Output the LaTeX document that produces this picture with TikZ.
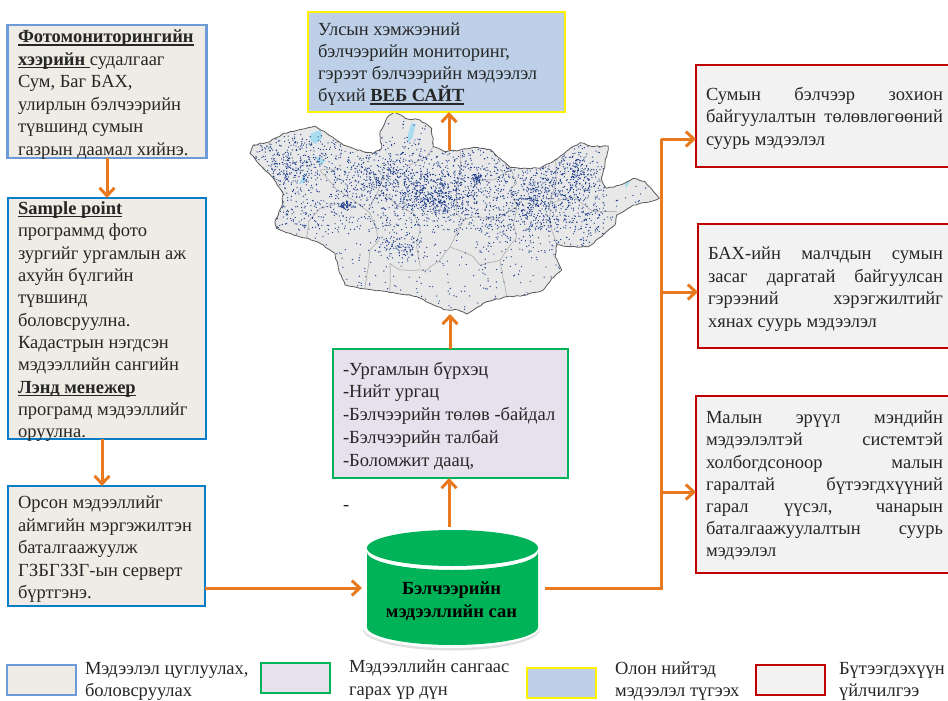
\documentclass[tikz,border=0pt]{standalone}
\usepackage{fontspec}
\setmainfont{Liberation Serif}
\usetikzlibrary{arrows.meta,calc,decorations.pathmorphing}
\definecolor{arr}{HTML}{E8791F}
\definecolor{bluea}{HTML}{6C9BD8}
\definecolor{blueb}{HTML}{0A7DC8}
\definecolor{fillgrey}{HTML}{EEECE4}
\definecolor{fillpurp}{HTML}{E6E1EC}
\definecolor{fillblue}{HTML}{BDD0E7}
\definecolor{fillred}{HTML}{F2F2F2}
\definecolor{grn}{HTML}{00B258}
\definecolor{redb}{HTML}{C00000}
\definecolor{mapfill}{HTML}{E8E8E8}
\definecolor{dotc}{HTML}{1A3A8A}
\definecolor{lake}{HTML}{A8DDF0}
\newsavebox\ubx
\newcommand\tbx[5]{\parbox[c][#2pt][t]{#1pt}{\leftskip=#4pt\parindent=0pt\vspace*{#3pt}#5}}
\newcommand\rag{\rightskip=0pt plus 1fil\relax}
\newcommand\ul[1]{\leavevmode\sbox\ubx{\textbf{#1}}\rlap{\rule[-3pt]{\wd\ubx}{1.5pt}}\usebox\ubx}
\newcommand\mapdots[5]{\foreach \i in {1,...,#5}{\fill[dotc] ({#1+#3*(rand+rand)*.72},{#2+#4*(rand+rand)*.72}) circle (2);}}
\newcommand\mapuni[5]{\foreach \i in {1,...,#5}{\fill[dotc] ({#1+#3*rand},{#2+#4*rand}) circle (2);}}
\tikzset{
  base/.style={rectangle,inner sep=0pt,outer sep=0pt,font=\fontsize{18.5}{22.5}\selectfont,text=black!85},
  bluebox/.style={base,draw=blueb,fill=fillgrey,line width=2.8pt},
  lightbox/.style={base,draw=bluea,fill=fillgrey,line width=2.8pt},
  greenbox/.style={base,draw=grn,fill=fillpurp,line width=2.8pt},
  yellowbox/.style={base,draw=yellow,fill=fillblue,line width=2.8pt},
  redbox/.style={base,draw=redb,fill=fillred,line width=2.8pt},
  plain/.style={base,anchor=base west,align=left},
  flow/.style={draw=arr,line width=3pt,-{Straight Barb[length=8pt,width=15pt,line width=3pt]}},
  flowline/.style={draw=arr,line width=3pt},
}
\begin{document}
\begin{tikzpicture}[x=1pt,y=-1pt]
\useasboundingbox (0,0) rectangle (948,701);

% map
\begin{scope}[shift={(240,90)},x=.33333pt,y=-.33333pt]
\def\outl{(462,65)--(495,85)--(540,90)--(575,115)--(580,170)--(620,185)--(660,180)--(700,172)--(750,178)--(785,210)--(810,232)--(860,235)--(900,235)--(945,210)--(985,180)--(1020,158)--(1060,170)--(1105,168)--(1095,220)--(1085,270)--(1100,295)--(1140,285)--(1180,265)--(1215,275)--(1258,325)--(1230,335)--(1180,345)--(1150,365)--(1130,375)--(1125,405)--(1085,440)--(1045,470)--(990,470)--(950,465)--(945,500)--(965,540)--(935,565)--(910,600)--(860,615)--(800,620)--(740,635)--(680,672)--(655,660)--(620,660)--(570,640)--(530,620)--(480,612)--(400,600)--(340,590)--(315,585)--(295,535)--(285,490)--(240,460)--(205,445)--(160,435)--(110,415)--(105,395)--(125,350)--(130,310)--(100,265)--(60,225)--(30,190)--(40,165)--(90,155)--(130,130)--(175,120)--(225,108)--(260,130)--(310,165)--(350,180)--(400,190)--(425,175)--(420,125)--(440,85)--cycle}
\fill[mapfill] \outl;
\fill[lake] (212,130)--(242,120)--(247,145)--(225,162)--(211,150)--cycle;
\fill[lake] (515,98)--(527,103)--(517,145)--(502,160)--(505,130)--cycle;
\fill[lake] (225,198)--(257,212)--(240,227)--cycle;
\fill[lake] (197,248)--(176,282)--(194,277)--cycle;
\fill[lake] (1160,272)--(1170,275)--(1160,292)--(1154,290)--cycle;
\draw[black!30,line width=.7pt,line join=round,decorate,decoration={random steps,segment length=4pt,amplitude=.5pt}]
 (240,240)--(290,300)--(340,330)--(390,370)--(410,420)--(415,455)--(390,480)--(385,530)--(375,595)
 (205,395)--(240,355)--(300,340) (205,395)--(200,445)
 (580,170)--(560,200)--(500,230)
 (660,180)--(660,240)--(650,300)--(650,370)--(670,390)--(650,430)--(630,470)--(600,510)--(560,540)--(480,540)--(450,520)--(450,610)
 (630,470)--(700,500)--(720,525)--(780,510)--(800,620)
 (780,510)--(830,440)--(820,400)--(830,350)--(810,300)--(830,280)--(810,232)
 (830,350)--(770,390)--(700,380)--(670,390)
 (945,210)--(950,270)--(930,340)--(930,400)--(950,465)
 (930,340)--(1000,320)--(1060,365)--(1130,365)
 (415,300)--(480,350)--(520,370)--(540,410)--(530,470)--(540,530)
 (385,360)--(415,300)--(430,260) (240,240)--(300,235)
 (700,270)--(760,270)--(810,240);
\begin{scope}
\clip \outl;
\pgfmathsetseed{4242}
\mapuni{640}{370}{620}{300}{1000}
\mapuni{560}{280}{520}{140}{1500}
\mapuni{900}{360}{200}{130}{350}
\mapdots{590}{320}{90}{55}{420}
\mapdots{440}{260}{120}{60}{300}
\mapdots{320}{345}{20}{10}{60}
\mapdots{712}{265}{12}{14}{50}
\mapdots{150}{230}{70}{60}{160}
\mapdots{880}{340}{80}{60}{200}
\mapdots{1000}{240}{50}{50}{120}
\mapdots{480}{470}{60}{35}{110}
\end{scope}
\draw[black!65,line width=.8pt,line join=round,decorate,decoration={random steps,segment length=3.5pt,amplitude=.7pt}] \outl;
\end{scope}

% collection boxes
\node[lightbox,anchor=north west] (photo) at (7.5,25) {\tbx{199}{133}{5}{10.5}{\rag
 \ul{Фотомониторингийн}\\\ul{хээрийн\ }судалгааг\\Сум, Баг БАХ,\\улирлын бэлчээрийн\\түвшинд сумын\\газрын даамал хийнэ.}};
\node[bluebox,anchor=north west] (sample) at (8,198) {\tbx{198}{241}{3.5}{10}{\rag\baselineskip=22.35pt
 \ul{Sample point}\\программд фото\\зургийг ургамлын аж\\ахуйн бүлгийн\\түвшинд\\боловсруулна.\\Кадастрын нэгдсэн\\мэдээллийн сангийн\\\ul{Лэнд менежер}\\програмд мэдээллийг\\оруулна.}};
\node[bluebox,anchor=north west] (verify) at (8,486) {\tbx{197}{120}{10}{10}{\rag
 Орсон мэдээллийг\\аймгийн мэргэжилтэн\\баталгаажуулж\\ГЗБГЗЗГ-ын серверт\\бүртгэнэ.}};

% web box
\node[yellowbox,anchor=north west] (web) at (308,12) {\tbx{257}{100}{11}{10}{\rag\baselineskip=22pt
 Улсын хэмжээний\\бэлчээрийн мониторинг,\\гэрээт бэлчээрийн мэдээлэл\\бүхий \ul{ВЕБ САЙТ}}};

% result box
\node[greenbox,anchor=north west] (result) at (333,349) {\tbx{235}{129}{13}{10}{\rag\baselineskip=22.75pt
 -Ургамлын бүрхэц\\-Нийт ургац\\-Бэлчээрийн төлөв -байдал\\-Бэлчээрийн талбай\\-Боломжит даац,}};
\node[plain] (dash) at (343,510) {-};

% database cylinder
\fill[black!12] (363,550) arc[start angle=180,end angle=360,x radius=88.5,y radius=21] -- (540,629.5) arc[start angle=0,end angle=180,x radius=88.5,y radius=21] -- cycle;
\fill[white] (363,548) arc[start angle=180,end angle=360,x radius=88.5,y radius=21] -- (540,627) arc[start angle=0,end angle=180,x radius=88.5,y radius=21] -- cycle;
\fill[grn] (452.5,548) ellipse[x radius=85.5,y radius=18];
\fill[grn] (367,552) arc[start angle=180,end angle=0,x radius=85.5,y radius=18] -- (538,627) arc[start angle=0,end angle=180,x radius=85.5,y radius=18] -- cycle;
\node[base,align=center,font=\fontsize{18.5}{22.5}\selectfont\bfseries,text=black,minimum width=177pt] (db) at (451.5,601) {Бэлчээрийн\\мэдээллийн сан};

% product boxes
\node[redbox,anchor=north west] (plan) at (696,65) {\tbx{254}{102}{22}{10}{\rightskip=7pt
 Сумын бэлчээр зохион\linebreak байгуулалтын төлөвлөгөөний\linebreak суурь мэдээлэл}};
\node[redbox,anchor=north west] (bah) at (698,224) {\tbx{252}{124}{23}{10}{\rightskip=7pt
 БАХ-ийн малчдын сумын\linebreak засаг даргатай байгуулсан\linebreak гэрээний хэрэгжилтийг\linebreak хянах суурь мэдээлэл}};
\node[redbox,anchor=north west] (vet) at (696,396) {\tbx{254}{177}{15}{10}{\rightskip=7pt\baselineskip=22.2pt
 Малын эрүүл мэндийн\linebreak мэдээлэлтэй системтэй\linebreak холбогдсоноор малын\linebreak гаралтай бүтээгдхүүний\linebreak гарал үүсэл, чанарын\linebreak баталгаажуулалтын суурь\linebreak мэдээлэл}};

% connectors
\coordinate (photoOut) at (107,158);
\coordinate (sampleOut) at (102,439);
\coordinate (mapN) at (449,150);
\coordinate (mapS) at (450,314);
\coordinate (dbN) at (449,527);
\coordinate (dbW) at (362,588);
\coordinate (dbE) at (545,588);
\coordinate (verifyE) at (205,588);
\coordinate (trunkB) at (661,588);
\coordinate (trunkT) at (661,139);
\coordinate (t2) at (661,292);
\coordinate (t3) at (661,492);
\draw[flow] (photoOut) -- (photoOut |- sample.north);
\draw[flow] (sampleOut) -- (sampleOut |- verify.north);
\draw[flow] (verifyE) -- (dbW);
\draw[flow] (dbN) -- (dbN |- result.south);
\draw[flow] (result.north -| mapS) -- (mapS);
\draw[flow] (mapN) -- (mapN |- web.south);
\draw[flowline,line join=miter] (dbE) -- (trunkB) -- (trunkT);
\draw[flow] (trunkT) -- (trunkT -| plan.west);
\draw[flow] (t2) -- (t2 -| bah.west);
\draw[flow] (t3) -- (t3 -| vet.west);

% legend
\tikzset{legbox/.style={minimum width=69pt,minimum height=30pt,anchor=north west}}
\node[lightbox,legbox] (lg1) at (7,665) {};
\node[greenbox,legbox] (lg2) at (261,663) {};
\node[yellowbox,legbox] (lg3) at (527,668) {};
\node[redbox,legbox] (lg4) at (756,665) {};
\node[plain] (lt1) at (85,696.5) {Мэдээлэл цуглуулах,\\боловсруулах};
\node[plain] (lt2) at (349,695) {Мэдээллийн сангаас\\гарах үр дүн};
\node[plain] (lt3) at (615,696.5) {Олон нийтэд\\мэдээлэл түгээх};
\node[plain] (lt4) at (839,696.5) {Бүтээгдэхүүн\\үйлчилгээ};
\end{tikzpicture}
\end{document}
